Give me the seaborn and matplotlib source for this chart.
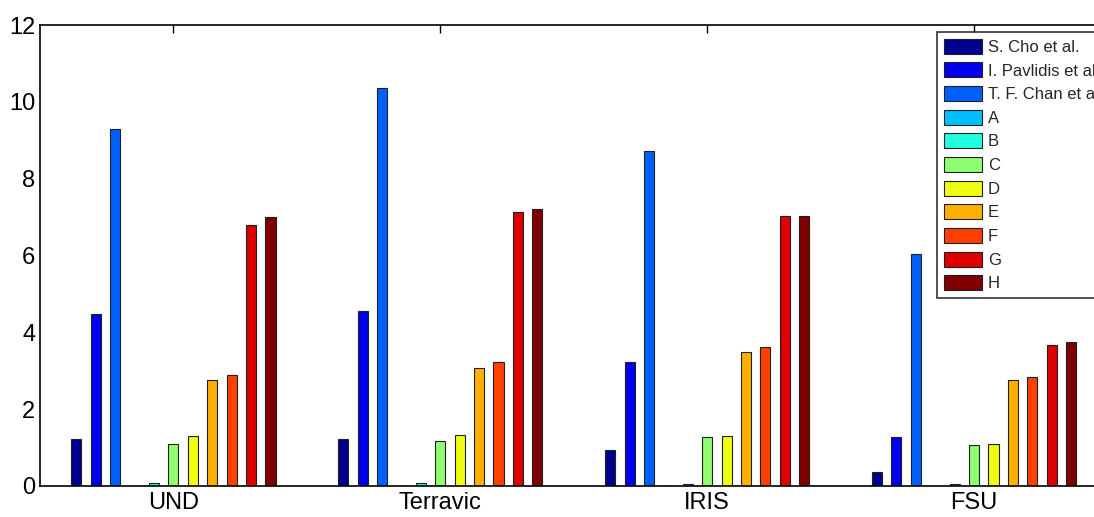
import matplotlib
matplotlib.use("Agg")
import matplotlib.pyplot as plt
import seaborn as sns
import pandas as pd

datasets = ["UND", "Terravic", "IRIS", "FSU"]
methods = ["S. Cho et al.", "I. Pavlidis et al.", "T. F. Chan et al.",
           "A", "B", "C", "D", "E", "F", "G", "H"]
und      = [1.22, 4.48, 9.28, 0.01, 0.08, 1.10, 1.30, 2.75, 2.90, 6.80, 7.00]
terravic = [1.22, 4.55, 10.37, 0.01, 0.08, 1.17, 1.33, 3.07, 3.22, 7.12, 7.22]
iris     = [0.95, 3.22, 8.72, 0.01, 0.06, 1.28, 1.30, 3.50, 3.62, 7.02, 7.03]
fsu      = [0.37, 1.28, 6.05, 0.01, 0.06, 1.06, 1.10, 2.75, 2.85, 3.68, 3.75]
colors = ["#00008F", "#0000EE", "#0060FF", "#00BFFF", "#20FFDF", "#8FFF70",
          "#EFFF10", "#FFAF00", "#FF4000", "#DF0000", "#800000"]

rows = []
for ds, vals in zip(datasets, [und, terravic, iris, fsu]):
    for m, v in zip(methods, vals):
        rows.append({"dataset": ds, "method": m, "value": v})
df = pd.DataFrame(rows)

sns.set_style("white")
plt.rcParams['font.family'] = ['Liberation Sans', 'DejaVu Sans']

fig = plt.figure(figsize=(10.94, 5.17), dpi=100)
ax = fig.add_axes([40/1094, 1 - 486/517, (1107.5 - 40)/1094, (486 - 25)/517])
sns.barplot(data=df, x="dataset", y="value", hue="method", order=datasets,
            hue_order=methods, palette=colors, saturation=1, width=0.8, gap=0.48,
            edgecolor="#202020", linewidth=0.8, ax=ax, legend=True)

ax.set_xlim(-0.5, 3.5)
ax.set_ylim(0, 12)
ax.set_yticks(range(0, 13, 2))
ax.set_xlabel("")
ax.set_ylabel("")
ax.tick_params(axis="both", direction="in", length=6, width=1, labelsize=17,
               top=True, right=True, colors="black")
ax.tick_params(axis="x", pad=4)
for s in ax.spines.values():
    s.set_visible(True)
    s.set_color("black")
    s.set_linewidth(1.2)

handles, labels = ax.get_legend_handles_labels()
ax.legend_.remove()
leg = fig.legend(handles, labels, loc="upper left",
                 bbox_to_anchor=(937/1094, 1 - 32/517), bbox_transform=fig.transFigure,
                 fontsize=12, frameon=True, fancybox=False, edgecolor="black",
                 handlelength=2.3, handleheight=1.0, handletextpad=0.35,
                 labelspacing=0.45, borderaxespad=0, borderpad=0.4)
leg.get_frame().set_linewidth(1.2)

fig.savefig("out.png", dpi=100)
